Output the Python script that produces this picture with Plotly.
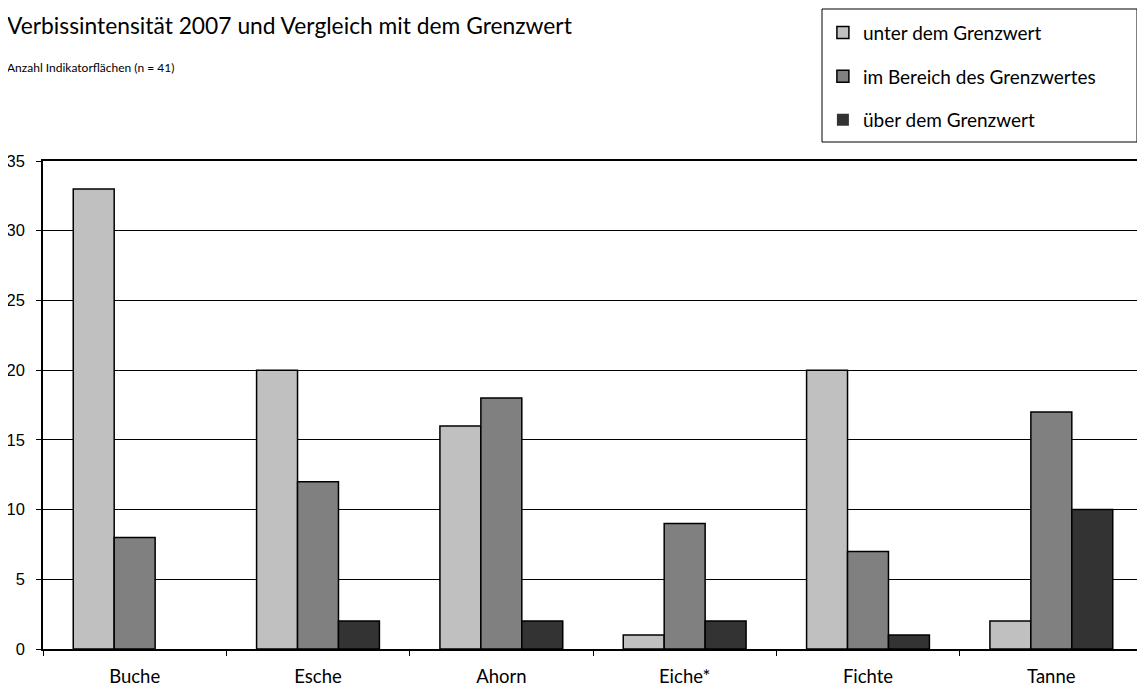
import plotly.graph_objects as go

categories = ["Buche", "Esche", "Ahorn", "Eiche*", "Fichte", "Tanne"]
unter = [33, 20, 16, 1, 20, 2]
bereich = [8, 12, 18, 9, 7, 17]
ueber = [0, 2, 2, 2, 1, 10]

series = [
    ("unter dem Grenzwert", unter, "#c0c0c0"),
    ("im Bereich des Grenzwertes", bereich, "#808080"),
    ("über dem Grenzwert", ueber, "#333333"),
]

FONT = "Lato, 'Noto Sans', sans-serif"

# plot area in figure pixels, used to place the legend frame and titles
L, R, T, B = 35, 1135, 153, 641
W, H = R - L, B - T

fig = go.Figure()
for i, (name, vals, color) in enumerate(series):
    # zero-height bars get no outline so they vanish like in the original
    widths = [1.5 if v else 0 for v in vals]
    fig.add_trace(go.Bar(
        x=categories, y=vals, name=name, legendgroup=f"g{i}",
        marker=dict(color=color, line=dict(color="black", width=widths)),
    ))

fig.update_layout(
    width=1145, height=686,
    margin=dict(l=L, r=1145 - R, t=T, b=686 - B, autoexpand=False),
    paper_bgcolor="white", plot_bgcolor="white",
    font=dict(family=FONT, color="black", size=15),
    barmode="group", bargap=0.33, bargroupgap=0,
    showlegend=True,
    legend=dict(
        x=0.709, y=1.302, xanchor="left", yanchor="top",
        bgcolor="rgba(0,0,0,0)", borderwidth=0,
        font=dict(size=19), tracegroupgap=16,
        itemwidth=30,
    ),
    annotations=[
        dict(text="Verbissintensität 2007 und Vergleich mit dem Grenzwert",
             xref="paper", yref="paper", x=-0.0345, y=1.279,
             xanchor="left", yanchor="middle", showarrow=False,
             font=dict(size=22.8)),
        dict(text="Anzahl Indikatorflächen (n = 41)",
             xref="paper", yref="paper", x=-0.0345, y=1.1926,
             xanchor="left", yanchor="middle", showarrow=False,
             font=dict(size=12)),
    ],
    shapes=[
        dict(type="rect", xref="paper", yref="paper",
             x0=(814 - L) / W, x1=(1129 - L) / W,
             y0=(B - 134) / H, y1=(B - 1) / H,
             line=dict(color="black", width=1)),
    ],
)

fig.update_xaxes(
    type="category", showline=True, linecolor="black", linewidth=1.5,
    mirror=True, ticks="outside", tickson="boundaries", ticklen=5,
    tickcolor="black", showgrid=False, tickfont=dict(size=18.5),
    ticklabelstandoff=10, automargin=False,
)
fig.update_yaxes(
    range=[0, 35], dtick=5, showline=True, linecolor="black", linewidth=1.5,
    mirror=True, ticks="outside", ticklen=5, tickcolor="black",
    showgrid=True, gridcolor="black", gridwidth=1, zeroline=False,
    tickfont=dict(size=16.5, family="'Liberation Sans', Arial, sans-serif"),
    ticklabelstandoff=8, automargin=False,
)

fig.write_html("out.html")
